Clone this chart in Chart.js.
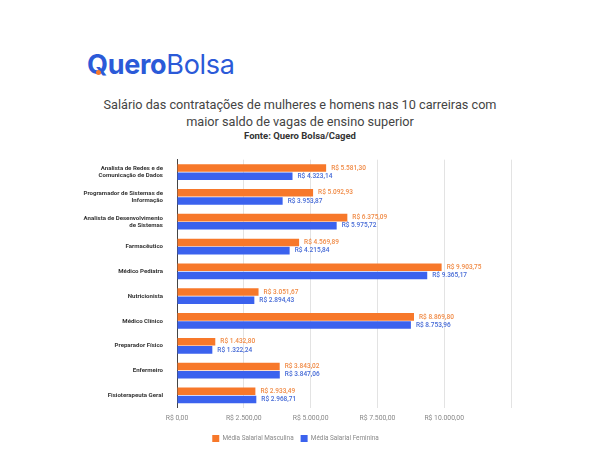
<!DOCTYPE html>
<html>
<head>
<meta charset="utf-8">
<script src="https://cdn.jsdelivr.net/npm/chart.js@4"></script>
<style>
    body { margin: 0; width: 600px; height: 452px; background: #fff; position: relative; overflow: hidden; font-family: Roboto, sans-serif; }
    #logo { position: absolute; left: 87px; top: 48px; font-family: Inter, sans-serif; font-size: 27px; color: #2b5ad8; letter-spacing: -0.3px; }
    #logo b { font-weight: 700; }
    #logo span { font-weight: 400; }
    #dot { position: absolute; left: 96px; top: 70px; width: 5px; height: 5px; border-radius: 50%; background: #f7782a; }
    #title { position: absolute; left: 0; width: 600px; top: 96px; text-align: center; color: #444; font-size: 12.7px; line-height: 17px; }
    #source { position: absolute; left: 0; width: 600px; top: 130px; text-align: center; color: #333; font-size: 9.5px; font-weight: 700; }
    #wrap { position: absolute; left: 80px; top: 150px; width: 450px; height: 302px; }
</style>
</head>
<body>
<div id="logo"><b>Quero</b><span>Bolsa</span></div>
<div id="dot"></div>
<div id="title">Salário das contratações de mulheres e homens nas 10 carreiras com<br>maior saldo de vagas de ensino superior</div>
<div id="source">Fonte: Quero Bolsa/Caged</div>
<div id="wrap"><canvas id="chart"></canvas></div>
<script>
const careers = [
    ['Analista de Redes e de', 'Comunicação de Dados'],
    ['Programador de Sistemas de', 'Informação'],
    ['Analista de Desenvolvimento', 'de Sistemas'],
    'Farmacêutico',
    'Médico Pediatra',
    'Nutricionista',
    'Médico Clínico',
    'Preparador Físico',
    'Enfermeiro',
    'Fisioterapeuta Geral'
];
const maleSalary = [5581.30, 5092.93, 6375.09, 4569.89, 9903.75, 3051.67, 8869.80, 1432.80, 3843.02, 2933.49];
const femaleSalary = [4323.14, 3953.87, 5975.72, 4215.84, 9365.17, 2894.43, 8753.96, 1322.24, 3847.06, 2968.71];
const xTicks = [0, 2500, 5000, 7500, 10000, 12500];

const ORANGE = '#f7782a';
const BLUE = '#3b62ee';

function brl(v) {
    const [int, dec] = v.toFixed(2).split('.');
    return 'R$ ' + int.replace(/\B(?=(\d{3})+(?!\d))/g, '.') + ',' + dec;
}

// writes the value next to the end of each bar
const valueLabels = {
    id: 'valueLabels',
    afterDatasetsDraw(chart) {
        const ctx = chart.ctx;
        ctx.save();
        ctx.font = '500 6.5px Roboto';
        ctx.textBaseline = 'middle';
        ctx.textAlign = 'left';
        chart.data.datasets.forEach((ds, i) => {
            ctx.fillStyle = i === 0 ? '#f08a45' : '#4469d6';
            chart.getDatasetMeta(i).data.forEach((bar, j) => {
                ctx.fillText(brl(ds.data[j]), bar.x + 5, bar.y);
            });
        });
        ctx.restore();
    }
};

new Chart(document.getElementById('chart'), {
    type: 'bar',
    data: {
        labels: careers,
        datasets: [
            { label: 'Média Salarial Masculina', data: maleSalary, backgroundColor: ORANGE },
            { label: 'Média Salarial Feminina', data: femaleSalary, backgroundColor: BLUE }
        ]
    },
    options: {
        indexAxis: 'y',
        responsive: true,
        maintainAspectRatio: false,
        animation: false,
        events: [],
        categoryPercentage: 0.66,
        barPercentage: 0.92,
        layout: { padding: { top: 7, right: 19, bottom: 0, left: 0 } },
        plugins: {
            tooltip: { enabled: false },
            legend: {
                position: 'bottom',
                labels: { boxWidth: 7, boxHeight: 7, color: '#888', font: { size: 6.4, family: 'Roboto' }, padding: 7 }
            }
        },
        scales: {
            x: {
                min: 0,
                max: 12500,
                afterBuildTicks: (s) => { s.ticks = xTicks.map((v) => ({ value: v })); },
                grid: { color: '#e3e3e3', drawTicks: false },
                border: { display: false },
                ticks: {
                    color: '#888',
                    font: { size: 6.8, family: 'Roboto' },
                    padding: 6,
                    callback: (v) => v === 12500 ? '' : brl(v)
                }
            },
            y: {
                afterFit: (s) => { s.width = 97; },
                grid: { display: false },
                border: { display: true, color: '#444', width: 1 },
                ticks: { color: '#333', font: { size: 6.1, family: 'Roboto', weight: '700' }, padding: 6 }
            }
        }
    },
    plugins: [valueLabels]
});
</script>
</body>
</html>
